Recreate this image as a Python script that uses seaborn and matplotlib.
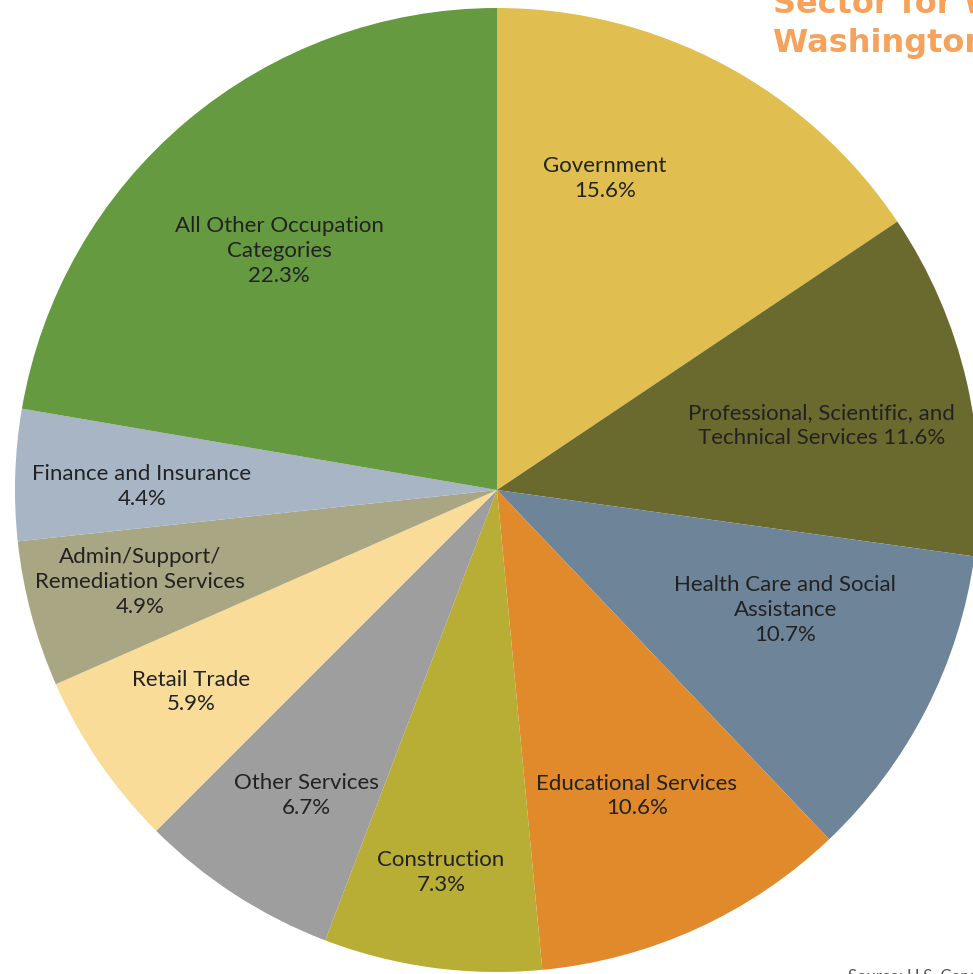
import matplotlib
matplotlib.use("Agg")
import matplotlib.pyplot as plt
import seaborn as sns

# Dados do gráfico (percentual por setor)
sectors = [
    "Government",
    "Professional, Scientific, and\nTechnical Services",
    "Health Care and Social\nAssistance",
    "Educational Services",
    "Construction",
    "Other Services",
    "Retail Trade",
    "Admin/Support/\nRemediation Services",
    "Finance and Insurance",
    "All Other Occupation\nCategories",
]
shares = [15.6, 11.6, 10.7, 10.6, 7.3, 6.7, 5.9, 4.9, 4.4, 22.3]
colors = [
    "#E0BE4F", "#6B6A2E", "#6E8499", "#E08A2B", "#B8AE36",
    "#9E9E9E", "#F9DC98", "#A8A683", "#A7B5C5", "#669A40",
]

# Posições dos rótulos (em unidades do raio)
label_pos = [
    (0.224, 0.647), (0.674, 0.133), (0.598, -0.249), (0.290, -0.635),
    (-0.116, -0.793), (-0.396, -0.633), (-0.635, -0.419), (-0.741, -0.191),
    (-0.737, 0.008), (-0.452, 0.496),
]

sns.set_theme(style="white")
plt.rcParams["font.family"] = ["Lato", "DejaVu Sans"]

fig = plt.figure(figsize=(9.73, 9.74), dpi=100)
ax = fig.add_axes([0, 0, 1, 1])

ax.pie(shares, colors=colors, startangle=90, counterclock=False,
       wedgeprops={"linewidth": 0})

for name, val, (x, y) in zip(sectors, shares, label_pos):
    if name.startswith("Professional"):
        txt = "Professional, Scientific, and\nTechnical Services %.1f%%" % val
    else:
        txt = "%s\n%.1f%%" % (name, val)
    ax.text(x, y, txt, ha="center", va="center", fontsize=16,
            color="#222222", linespacing=1.3)

ax.set_xlim(-497 / 482, 476 / 482)
ax.set_ylim(-484 / 482, 490 / 482)
ax.set_aspect("auto")
ax.axis("off")

# Título cortado no canto superior direito
fig.text(773 / 973, 1 - 13 / 974, "Sector for Women in",
         ha="left", va="baseline", fontsize=23, fontweight="bold",
         color="#F6A25C", family="DejaVu Sans")
fig.text(773 / 973, 1 - 52 / 974, "Washington, DC",
         ha="left", va="baseline", fontsize=23, fontweight="bold",
         color="#F6A25C", family="DejaVu Sans")
fig.text(848 / 973, 1 - 982 / 974, "Source: U.S. Census Bureau",
         ha="left", va="baseline", fontsize=12, color="#555555")

fig.savefig("out.png", dpi=100)
